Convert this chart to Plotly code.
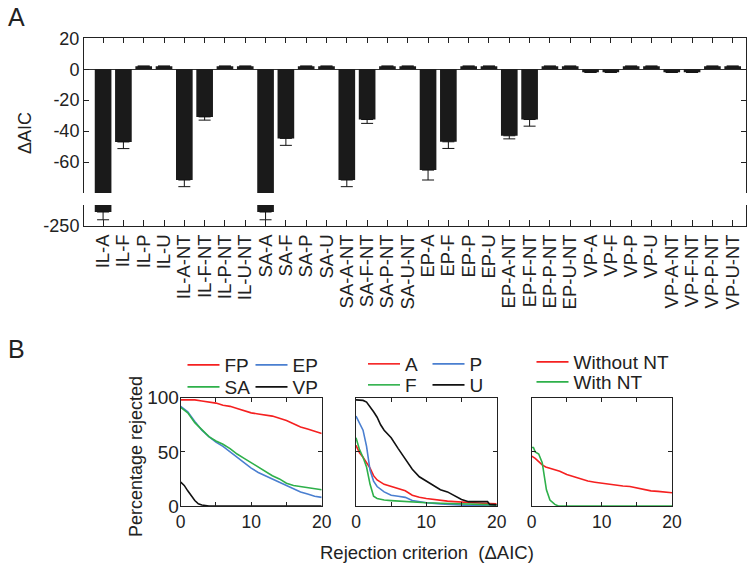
import plotly.graph_objects as go

# ---------------- Panel A data ----------------
models = ["IL-A", "IL-F", "IL-P", "IL-U", "IL-A-NT", "IL-F-NT", "IL-P-NT", "IL-U-NT",
          "SA-A", "SA-F", "SA-P", "SA-U", "SA-A-NT", "SA-F-NT", "SA-P-NT", "SA-U-NT",
          "EP-A", "EP-F", "EP-P", "EP-U", "EP-A-NT", "EP-F-NT", "EP-P-NT", "EP-U-NT",
          "VP-A", "VP-F", "VP-P", "VP-U", "VP-A-NT", "VP-F-NT", "VP-P-NT", "VP-U-NT"]
delta_aic = [-241, -47, 2, 2, -71.6, -30.8, 2, 2,
             -241, -44.7, 2, 2, -71.6, -32.5, 2, 2,
             -65.2, -46.9, 2, 2, -43, -32.5, 2, 2,
             -2, -2, 2, 2, -2, -2, 2, 2]
delta_err = [5, 4.3, 0, 0, 4.3, 2.1, 0, 0,
             5, 4.5, 0, 0, 4.3, 2.5, 0, 0,
             6.4, 4.3, 0, 0, 2, 4.3, 0, 0,
             0, 0, 0, 0, 0, 0, 0, 0]
upper_ticks = [20, 0, -20, -40, -60]
upper_ticktext = ["20", "0", "-20", "-40", "-60"]
lower_ticks = [-250]
lower_ticktext = ["-250"]

# ---------------- Panel B data ----------------
# subplot 1: model family
fp_x = [0, 1, 2, 3, 4, 5, 6, 7, 8, 9, 10, 11, 12, 13, 14, 15, 16, 17, 18, 19, 20]
fp_y = [98, 98, 98, 97, 96, 95, 93, 92, 90, 88, 86, 85, 84, 83, 81, 79, 76, 73, 71, 69, 67]
ep_x = [0, 1, 2, 3, 4, 5, 6, 7, 8, 9, 10, 11, 12, 13, 14, 15, 16, 17, 18, 19, 20]
ep_y = [92, 87, 78, 70, 64, 59, 55, 50, 45, 40, 35, 31, 28, 25, 22, 19, 16, 13, 11, 9, 8]
sa_x = [0, 1, 2, 3, 4, 5, 6, 7, 8, 9, 10, 11, 12, 13, 14, 15, 16, 17, 18, 19, 20]
sa_y = [91, 86, 77, 70, 64, 60, 57, 53, 48, 44, 40, 36, 32, 28, 25, 21, 19, 18, 17, 16, 15]
vp_x = [0, 0.5, 1, 1.5, 2, 2.5, 3, 4, 20]
vp_y = [22, 19, 14, 9, 5, 2, 1, 0, 0]

# subplot 2: precision type
a_x = [0, 0.5, 1, 1.5, 2, 2.5, 3, 4, 5, 6, 7, 8, 9, 10, 11, 12, 13, 14, 16, 18, 20]
a_y = [56, 49, 45, 40, 35, 28, 24, 20, 18, 16, 14, 10, 8, 7, 6, 5, 4.5, 4, 3, 2.5, 2]
p_x = [0, 0.5, 1, 1.5, 2, 2.5, 3, 4, 5, 6, 7, 8, 9, 10, 12, 14, 16, 20]
p_y = [83, 77, 70, 55, 33, 23, 18, 13, 10, 9, 8, 5, 4, 3, 2, 1, 0.5, 0]
f_x = [0, 0.5, 1, 1.5, 2, 2.5, 3, 4, 5, 6, 8, 10, 12, 15, 20]
f_y = [63, 52, 45, 36, 20, 9, 7, 5.5, 5, 4.5, 3.5, 3, 2.5, 2, 1]
u_x = [0, 1, 1.5, 2, 2.5, 3, 3.5, 4, 5, 6, 7, 8, 9, 10, 11, 12, 13, 14, 15, 16, 17, 18, 18.7, 19, 20]
u_y = [98, 97.5, 96, 92, 87, 82, 75, 70, 63, 53, 43, 34, 27, 23, 19, 15, 13, 9.5, 6, 4, 4, 4, 4, 1.5, 1]

# subplot 3: non-target
wo_x = [0, 0.5, 1, 1.5, 2, 3, 4, 5, 6, 7, 8, 9, 10, 11, 12, 13, 14, 15, 16, 17, 18, 19, 20]
wo_y = [46, 44, 41, 38, 36, 34, 32, 29, 27, 24.5, 23, 22, 21, 20, 19, 18.5, 18, 16.5, 15, 14, 13.5, 13, 12.3]
wi_x = [0, 0.25, 0.5, 1, 1.5, 1.8, 2.1, 2.6, 3.3, 3.8, 20]
wi_y = [54, 54, 50, 48, 40, 27, 15, 5.5, 1.5, 0, 0]

RED = "#f52020"
BLUE = "#4a7fd0"
GREEN = "#2eb04a"
BLACK = "#111111"
FONT = "Arial, 'Liberation Sans', sans-serif"
W, H = 750, 566


def px_x(v):
    return v / W


def px_y(v):
    return 1 - v / H


fig = go.Figure()

bar_style = dict(marker=dict(color="#1a1a1a", line=dict(width=0)), width=0.82, showlegend=False)
err = dict(type="data", symmetric=False, array=[0] * len(delta_err), arrayminus=delta_err,
           color="#111111", thickness=1, width=6)
fig.add_trace(go.Bar(x=models, y=delta_aic, error_y=err, xaxis="x", yaxis="y", **bar_style))
fig.add_trace(go.Bar(x=models, y=delta_aic, error_y=err, xaxis="x2", yaxis="y2", **bar_style))


def line(x, y, color, name, ax, legend):
    fig.add_trace(go.Scatter(x=x, y=y, mode="lines", name=name,
                             line=dict(color=color, width=1.6),
                             xaxis="x" + ax, yaxis="y" + ax, legend=legend))


line(fp_x, fp_y, RED, "FP", "3", "legend")
line(ep_x, ep_y, BLUE, "EP", "3", "legend")
line(sa_x, sa_y, GREEN, "SA", "3", "legend2")
line(vp_x, vp_y, BLACK, "VP", "3", "legend2")
line(a_x, a_y, RED, "A", "4", "legend3")
line(p_x, p_y, BLUE, "P", "4", "legend3")
line(f_x, f_y, GREEN, "F", "4", "legend4")
line(u_x, u_y, BLACK, "U", "4", "legend4")
line(wo_x, wo_y, RED, "Without NT", "5", "legend5")
line(wi_x, wi_y, GREEN, "With NT", "5", "legend6")

axis_common = dict(showline=True, linecolor="#222", linewidth=1, showgrid=False, zeroline=False,
                   automargin=False, ticks="inside", tickcolor="#222",
                   tickfont=dict(size=18, color="#222"))

xA_dom = [px_x(84), px_x(745.7)]
xrange_A = [-0.94, 31.64]

layout = dict(
    template="none",
    width=W, height=H,
    margin=dict(l=0, r=0, t=0, b=0, autoexpand=False),
    paper_bgcolor="white", plot_bgcolor="white",
    font=dict(family=FONT, color="#222"),
    xaxis=dict(axis_common, domain=xA_dom, anchor="y", side="top", range=xrange_A,
               showticklabels=False, ticklen=5, type="category", tickmode="array", tickvals=models),
    yaxis=dict(axis_common, domain=[px_y(193), px_y(38.3)], anchor="x", range=[-80, 20],
               tickvals=upper_ticks, ticktext=upper_ticktext, ticklen=5, mirror="allticks",
               zeroline=True, zerolinecolor="#333", zerolinewidth=1),
    xaxis2=dict(axis_common, domain=xA_dom, anchor="y2", side="bottom", range=xrange_A,
                ticklen=6, tickangle=-90, type="category", tickmode="array", tickvals=models,
                tickfont=dict(size=18.5, color="#222")),
    yaxis2=dict(axis_common, domain=[px_y(226), px_y(205)], anchor="x2", range=[-250, -236.5],
                tickvals=lower_ticks, ticktext=lower_ticktext, ticklen=5, mirror=True),
    bargap=0.18,
)

b_doms = [[px_x(180.7), px_x(321.7)], [px_x(356), px_x(496.7)], [px_x(531.7), px_x(672)]]
b_ydom = [px_y(506), px_y(397.7)]
for i, dom in enumerate(b_doms):
    k = str(i + 3)
    layout["xaxis" + k] = dict(axis_common, domain=dom, anchor="y" + k, range=[0, 20],
                               tickvals=[0, 5, 10, 15, 20], ticktext=["0", "", "10", "", "20"],
                               ticklen=4, mirror="allticks", tickfont=dict(size=17.5, color="#222"))
    layout["yaxis" + k] = dict(axis_common, domain=b_ydom, anchor="x" + k, range=[0, 100],
                               tickvals=[0, 50, 100], ticklen=4, mirror="allticks",
                               showticklabels=(i == 0), ticklabelstandoff=-3,
                               tickfont=dict(size=19, color="#222"))

leg_common = dict(orientation="h", xanchor="left", yanchor="middle", bgcolor="rgba(0,0,0,0)",
                  font=dict(size=19, color="#222"), itemwidth=32, tracegroupgap=0,
                  entrywidthmode="pixels")
layout["legend"] = dict(leg_common, x=px_x(182.5), y=px_y(365), entrywidth=21)
layout["legend2"] = dict(leg_common, x=px_x(182.5), y=px_y(387), entrywidth=21)
layout["legend3"] = dict(leg_common, x=px_x(363), y=px_y(364), entrywidth=17.5)
layout["legend4"] = dict(leg_common, x=px_x(363), y=px_y(385), entrywidth=17.5)
layout["legend5"] = dict(leg_common, x=px_x(531.5), y=px_y(362))
layout["legend6"] = dict(leg_common, x=px_x(531.5), y=px_y(382))

fig.update_layout(**layout)

annotations = [
    dict(text="A", x=px_x(16), y=px_y(17), font=dict(size=25)),
    dict(text="B", x=px_x(16), y=px_y(349), font=dict(size=25)),
    dict(text="ΔAIC", x=px_x(25), y=px_y(133), textangle=-90, font=dict(size=18)),
    dict(text="Percentage rejected", x=px_x(136), y=px_y(457), textangle=-90, font=dict(size=18)),
    dict(text="Rejection criterion \u00a0(ΔAIC)", x=px_x(427), y=px_y(552), font=dict(size=18.5)),
]
for a in annotations:
    fig.add_annotation(xref="paper", yref="paper", showarrow=False,
                       xanchor="center", yanchor="middle", font_color="#222", **a)

fig.write_html("out.html", config={"displayModeBar": False},
               post_script="document.body.style.margin='0';")
